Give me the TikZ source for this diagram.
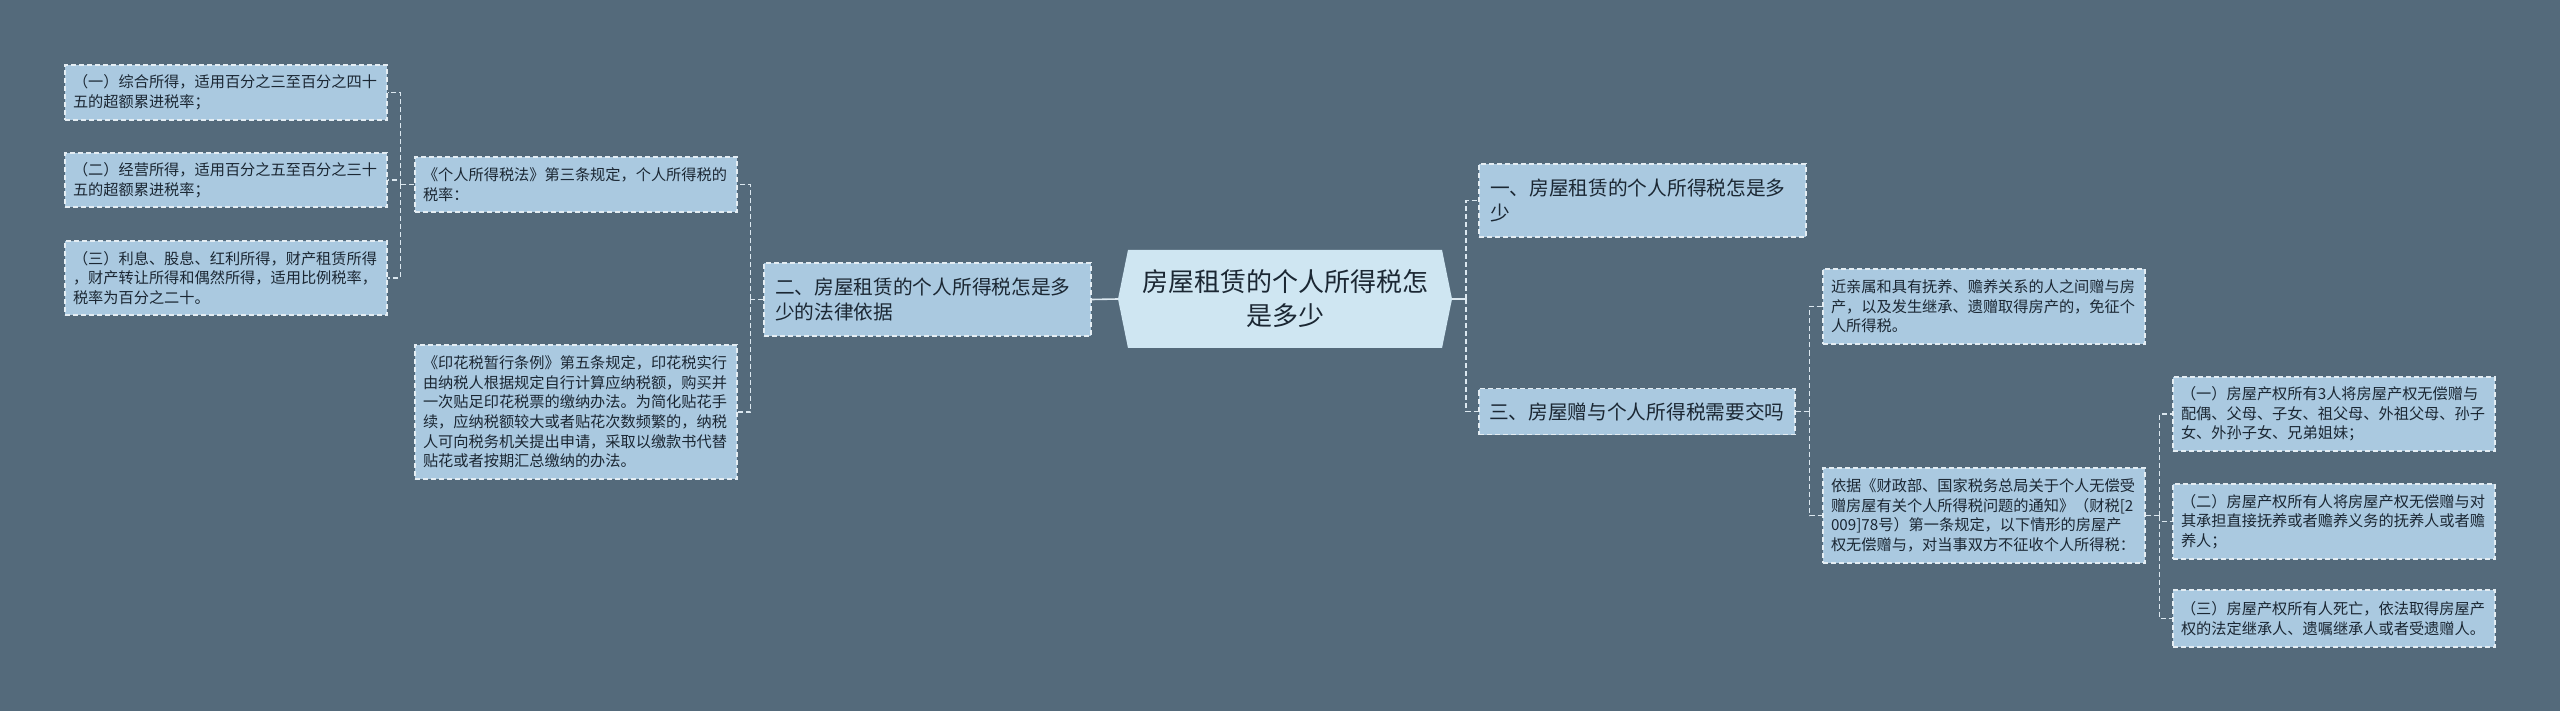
\documentclass[tikz,border=0pt]{standalone}
\usepackage{fontspec}
\setmainfont{Noto Sans CJK SC}
\usetikzlibrary{shapes.symbols}
\definecolor{bgc}{HTML}{546A7B}
\definecolor{leaffill}{HTML}{AAC9E0}
\definecolor{rootfill}{HTML}{CFE6F2}
\definecolor{bordc}{HTML}{E4EDF3}
\definecolor{connc}{HTML}{DCE8F0}
\definecolor{txtc}{HTML}{1B2733}
\tikzset{
  leaf/.style={draw=bordc, fill=leaffill, line width=1.3pt, dash pattern=on 5pt off 3pt,
    text=txtc, align=left, inner xsep=8pt, inner ysep=0pt, text width=306pt,
    minimum width=322pt, font=\fontsize{15.2}{19.6}\selectfont},
  branch/.style={draw=bordc, fill=leaffill, line width=1.3pt, dash pattern=on 5pt off 3pt,
    text=txtc, align=left, inner xsep=11pt, inner ysep=0pt,
    font=\fontsize{19.7}{25}\selectfont},
  rootnode/.style={shape=signal, signal to=west and east, signal pointer angle=157,
    fill=rootfill, text=txtc, align=center, inner xsep=0pt, inner ysep=0pt,
    minimum width=334pt, minimum height=98pt, font=\fontsize{26}{34}\selectfont},
  conn/.style={draw=connc, line width=1.6pt, dash pattern=on 5pt off 3pt},
  solidconn/.style={draw=connc, line width=1.6pt},
}
\begin{document}
\begin{tikzpicture}[x=1pt,y=-1pt]
\useasboundingbox (0,0) rectangle (2560,711);
\fill[bgc] (0,0) rectangle (2560,711);

% left side
\node[leaf, minimum height=55pt] (L1) at (226,92.5) {（一）综合所得，适用百分之三至百分之四十\\五的超额累进税率；};
\node[leaf, minimum height=54pt] (L2) at (226,180) {（二）经营所得，适用百分之五至百分之三十\\五的超额累进税率；};
\node[leaf, minimum height=74pt] (L3) at (226,278) {（三）利息、股息、红利所得，财产租赁所得\\，财产转让所得和偶然所得，适用比例税率，\\税率为百分之二十。};
\node[leaf, minimum height=55pt] (N1) at (576,184.5) {《个人所得税法》第三条规定，个人所得税的\\税率：};
\node[leaf, minimum height=134pt] (N2) at (576,412) {《印花税暂行条例》第五条规定，印花税实行\\由纳税人根据规定自行计算应纳税额，购买并\\一次贴足印花税票的缴纳办法。为简化贴花手\\续，应纳税额较大或者贴花次数频繁的，纳税\\人可向税务机关提出申请，采取以缴款书代替\\贴花或者按期汇总缴纳的办法。};
\node[branch, text width=305pt, minimum width=327pt, minimum height=73pt] (B2) at (927.5,299.5) {二、房屋租赁的个人所得税怎是多\\少的法律依据};

% root
\node[rootnode] (root) at (1285,299) {房屋租赁的个人所得税怎\\是多少};

% right side
\node[branch, text width=305pt, minimum width=327pt, minimum height=73pt] (B1) at (1642.5,200.5) {一、房屋租赁的个人所得税怎是多\\少};
\node[branch, text width=296pt, inner xsep=10pt, minimum width=316pt, minimum height=46pt] (B3) at (1637,411.5) {三、房屋赠与个人所得税需要交吗};
\node[leaf, minimum height=75pt] (R1) at (1984,306.5) {近亲属和具有抚养、赡养关系的人之间赠与房\\产，以及发生继承、遗赠取得房产的，免征个\\人所得税。};
\node[leaf, minimum height=95pt] (R2) at (1984,515.5) {依据《财政部、国家税务总局关于个人无偿受\\赠房屋有关个人所得税问题的通知》（财税[2\\009]78号）第一条规定，以下情形的房屋产\\权无偿赠与，对当事双方不征收个人所得税：};
\node[leaf, minimum height=74pt] (Ra) at (2334,414) {（一）房屋产权所有3人将房屋产权无偿赠与\\配偶、父母、子女、祖父母、外祖父母、孙子\\女、外孙子女、兄弟姐妹；};
\node[leaf, minimum height=75pt] (Rb) at (2334,521.5) {（二）房屋产权所有人将房屋产权无偿赠与对\\其承担直接抚养或者赡养义务的抚养人或者赡\\养人；};
\node[leaf, minimum height=57pt] (Rc) at (2334,618.5) {（三）房屋产权所有人死亡，依法取得房屋产\\权的法定继承人、遗嘱继承人或者受遗赠人。};

% connectors
\draw[solidconn] (B2.east) -- (root.west);
\draw[solidconn] (root.east) -- ++(14,0) coordinate (rt);
\draw[conn] (rt) |- (B1.west);
\draw[conn] (rt) |- (B3.west);

\draw[conn] (B2.west) -- ++(-13,0) coordinate (lt);
\draw[conn] (lt) |- (N1.east);
\draw[conn] (lt) |- (N2.east);

\draw[conn] (N1.west) -- ++(-14,0) coordinate (lt2);
\draw[conn] (lt2) |- (L1.east);
\draw[conn] (lt2) |- (L2.east);
\draw[conn] (lt2) |- (L3.east);

\draw[conn] (B3.east) -- ++(14,0) coordinate (rt2);
\draw[conn] (rt2) |- (R1.west);
\draw[conn] (rt2) |- (R2.west);

\draw[conn] (R2.east) -- ++(14,0) coordinate (rt3);
\draw[conn] (rt3) |- (Ra.west);
\draw[conn] (rt3) |- (Rb.west);
\draw[conn] (rt3) |- (Rc.west);
\end{tikzpicture}
\end{document}
